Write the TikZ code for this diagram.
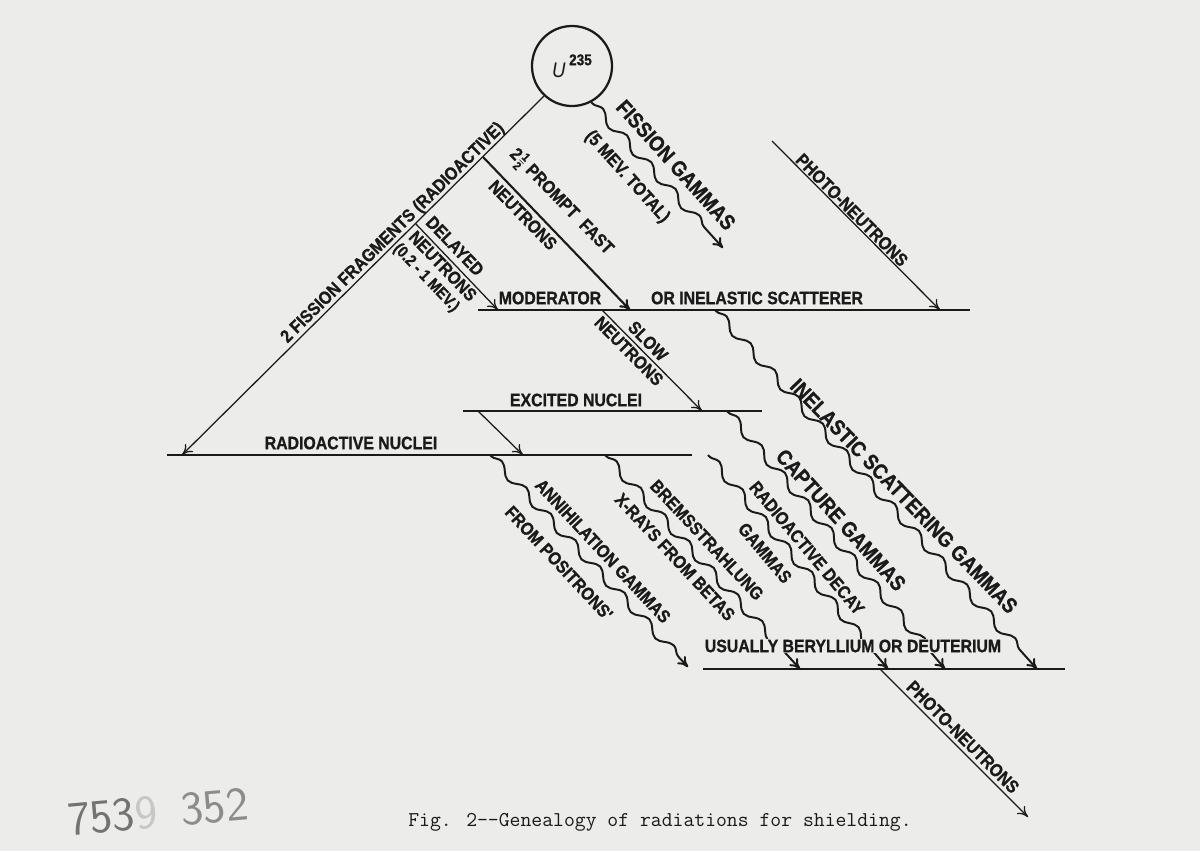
\documentclass[tikz,border=0pt]{standalone}
\usepackage{fontspec}
\usepackage{tikz}
\usetikzlibrary{arrows.meta,decorations.pathmorphing}
\newfontfamily\lettering[FakeStretch=0.88, BoldFeatures={FakeBold=1}]{Liberation Sans}
\definecolor{paper}{RGB}{236,236,234}
\definecolor{ink}{RGB}{26,26,26}
\newcommand{\halfmark}{$\frac{\mbox{\fontsize{8.5}{8.5}\selectfont 1}}{\mbox{\fontsize{8.5}{8.5}\selectfont 2}}$}
\tikzset{
  nucleus/.style={
    draw=ink, circle, line width=1.6pt, minimum size=2cm, inner sep=0pt,
    text=ink, font=\lettering\fontsize{15}{15}\selectfont
  },
  level/.style={draw=ink, line width=2pt},
  arr/.style={draw=ink, -{To[length=2.6mm,width=2.8mm]}, line width=0.9pt},
  fast/.style={arr, line width=1.5pt},
  ray/.style={
    arr, line width=1.4pt, decorate,
    decoration={snake, segment length=0.9cm, amplitude=0.11cm, pre length=1pt, post length=3.5mm}
  },
  lbl/.style={text=ink, font=\lettering\bfseries\fontsize{12.8}{14}\selectfont, inner sep=1pt},
  biglbl/.style={lbl, font=\lettering\bfseries\fontsize{15.2}{17}\selectfont},
  smlbl/.style={lbl, font=\lettering\bfseries\fontsize{11.5}{13}\selectfont},
  cover/.style={lbl, fill=paper, inner sep=0.5pt}
}

\begin{document}
\begin{tikzpicture}[x=0.025cm, y=-0.025cm]
  \fill[paper] (0,0) rectangle (1200,851);
  \useasboundingbox (0,0) rectangle (1200,851);

  \node[nucleus] (u) at (572,66) {{\itshape U}\,\raisebox{1.1ex}{\bfseries\fontsize{11}{11}\selectfont 235}\hspace{3pt}};

  \coordinate (mod-w) at (478,310);  \coordinate (mod-e) at (970,310);
  \coordinate (exc-w) at (463,411);  \coordinate (exc-e) at (762,411);
  \coordinate (rad-w) at (167,455);  \coordinate (rad-e) at (692,455);
  \coordinate (be-w) at (703,669);   \coordinate (be-e) at (1065,669);

  \coordinate (frag-end) at (182,455);
  \path (u.227) -- (frag-end) coordinate[pos=0.169] (fast-start) coordinate[pos=0.355] (del-start);
  \coordinate (fast-end) at (630,310);
  \coordinate (del-end) at (498,310);
  \coordinate (fg-end) at (723,248);
  \coordinate (pn-start) at (772,141);  \coordinate (pn-end) at (940,310);
  \coordinate (slow-start) at (602,310); \coordinate (slow-end) at (702,411);
  \coordinate (ine-start) at (715,310); \coordinate (ine-end) at (1037,669);
  \coordinate (cap-start) at (727,411); \coordinate (cap-end) at (945,669);
  \coordinate (exc-start) at (478,411); \coordinate (exc-end) at (523,455);
  \coordinate (ann-start) at (490,455); \coordinate (ann-end) at (688,667);
  \coordinate (bre-start) at (605,455); \coordinate (bre-end) at (800,669);
  \coordinate (dec-start) at (708,455); \coordinate (dec-end) at (888,669);
  \coordinate (pn2-start) at (880,669); \coordinate (pn2-end) at (1028,817);

  \draw[level] (mod-w) -- (mod-e);
  \draw[level] (exc-w) -- (exc-e);
  \draw[level] (rad-w) -- (rad-e);
  \draw[level] (be-w) -- (be-e);

  \draw[arr] (u.227) -- (frag-end);
  \draw[fast] (fast-start) -- (fast-end);
  \draw[arr] (del-start) -- (del-end);
  \draw[ray] (u.298) -- (fg-end);
  \draw[arr] (pn-start) -- (pn-end);
  \draw[arr] (slow-start) -- (slow-end);
  \draw[ray] (ine-start) -- (ine-end);
  \draw[ray] (cap-start) -- (cap-end);
  \draw[arr] (exc-start) -- (exc-end);
  \draw[ray] (ann-start) -- (ann-end);
  \draw[ray] (bre-start) -- (bre-end);
  \draw[ray] (dec-start) -- (dec-end);
  \draw[arr] (pn2-start) -- (pn2-end);

  \node[lbl, rotate=44.6] (lbl-frag) at (393,233) {2 FISSION FRAGMENTS (RADIOACTIVE)};
  \node[lbl, rotate=-45.8] (lbl-fast) at (561,202) {2\halfmark\ PROMPT\enspace FAST};
  \node[lbl, rotate=-45.8] (lbl-fast2) at (523,215) {NEUTRONS};
  \node[lbl, rotate=-46.3] (lbl-del) at (455,246) {DELAYED};
  \node[lbl, rotate=-46.3] (lbl-del2) at (443,266) {NEUTRONS};
  \node[smlbl, rotate=-46.3] (lbl-del3) at (426,278) {(0.2 - 1 MEV.)};
  \node[biglbl, rotate=-48] (lbl-fg) at (676,165) {FISSION GAMMAS};
  \node[lbl, rotate=-48] (lbl-fg2) at (627,177) {(5 MEV. TOTAL)};
  \node[lbl, rotate=-45.2] (lbl-pn) at (852,210) {PHOTO-NEUTRONS};
  \node[lbl] (lbl-mod) at (550,298) {MODERATOR};
  \node[lbl] (lbl-mod2) at (757,298) {OR INELASTIC SCATTERER};
  \node[lbl, rotate=-45.3] (lbl-slow) at (648,341) {SLOW};
  \node[lbl, rotate=-45.3] (lbl-slow2) at (629,351) {NEUTRONS};
  \node[lbl] (lbl-exc) at (576,400) {EXCITED NUCLEI};
  \node[lbl] (lbl-rad) at (351,443) {RADIOACTIVE NUCLEI};
  \node[biglbl, rotate=-46] (lbl-ine) at (904,496) {INELASTIC SCATTERING GAMMAS};
  \node[biglbl, rotate=-48] (lbl-cap) at (841,520) {CAPTURE GAMMAS};
  \node[lbl, rotate=-50] (lbl-dec) at (807,548) {RADIOACTIVE DECAY};
  \node[lbl, rotate=-50] (lbl-dec2) at (765,553) {GAMMAS};
  \node[lbl, rotate=-47] (lbl-bre) at (707,540) {BREMSSTRAHLUNG};
  \node[lbl, rotate=-47] (lbl-bre2) at (675,557) {X-RAYS FROM BETAS};
  \node[lbl, rotate=-47] (lbl-ann) at (603,551) {ANNIHILATION GAMMAS};
  \node[lbl, rotate=-47] (lbl-ann2) at (559,563) {FROM POSITRONS'};
  \node[cover] (lbl-be) at (853,646) {USUALLY BERYLLIUM OR DEUTERIUM};
  \node[lbl, rotate=-45] (lbl-pn2) at (963,737) {PHOTO-NEUTRONS};

  \node[font=\ttfamily\fontsize{15}{18}\selectfont, text=ink] (caption) at (660,822)
    {Fig. 2-\kern0pt-Genealogy of radiations for shielding.};
  \node[font=\sffamily\fontsize{34}{34}\selectfont, text=black!55, rotate=5] (stamp) at (158,812)
    {753{\color{black!22}9}\hspace{0.5em}{\color{black!45}352}};
\end{tikzpicture}
\end{document}
